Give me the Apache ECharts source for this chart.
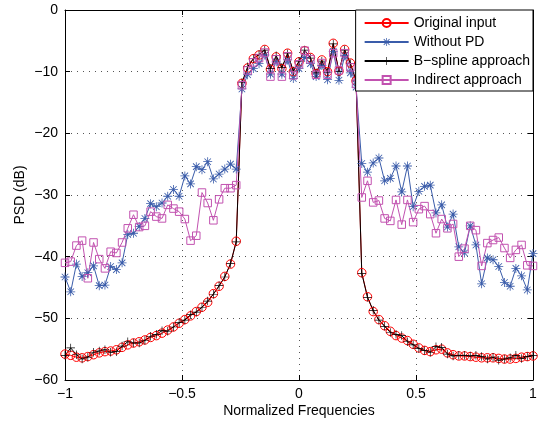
<!DOCTYPE html>
<html>
<head>
    <meta charset="utf-8">
    <style type="text/css">
        html,body { margin: 0px; padding: 0px; background: #fff; }
        #chart { width: 545px; height: 424px; }
    </style>
    <script src="https://cdn.jsdelivr.net/npm/echarts@6/dist/echarts.min.js"></script>
</head>
<body>
    <div id="chart"></div>
    <script type="text/javascript">
        // frequency grid k/41, k = -41..41
        var freq = [];
        for (var k = -41; k <= 41; k++) freq.push(k / 41);

        var origInput = [
            -55.8,-56.0,-56.3,-56.4,-56.2,-55.9,-55.6,-55.4,-55.3,-55.1,-54.7,-54.3,-54.0,-53.8,-53.5,-53.1,
            -52.8,-52.4,-51.9,-51.4,-50.8,-50.2,-49.6,-48.9,-48.2,-47.4,-46.0,-44.8,-43.2,-41.2,-37.5,
            -11.9,-9.4,-7.9,-7.3,-6.4,-9.6,-7.6,-9.5,-7.0,-10.0,-8.4,-6.6,-7.7,-10.3,-8.1,-10.0,-5.4,-9.9,-6.4,-8.6,-11.5,
            -42.6,-46.5,-48.9,-50.2,-51.2,-52.1,-52.8,-53.2,-53.6,-54.2,-54.8,-55.2,-55.4,-55.1,-55.0,-55.6,
            -55.9,-56.1,-56.1,-56.2,-56.3,-56.4,-56.4,-56.4,-56.5,-56.6,-56.6,-56.5,-56.3,-56.2,-56.1
        ];
        var withoutPD = [
            -43.3,-45.7,-41.2,-43.2,-42.6,-41.5,-44.7,-44.6,-41.6,-42.1,-41.0,-36.4,-36.2,-35.1,-33.8,-31.4,
            -31.9,-31.3,-30.2,-29.1,-30.2,-26.9,-28.2,-25.4,-25.9,-24.6,-27.4,-26.6,-25.8,-25.0,-25.8,
            -12.8,-10.5,-9.5,-8.7,-7.3,-10.4,-8.4,-10.4,-8.1,-11.1,-9.5,-7.7,-8.7,-10.8,-9.0,-11.3,-6.7,-11.4,-7.4,-10.2,-12.5,
            -24.9,-26.3,-24.8,-24.0,-27.7,-27.3,-25.3,-29.5,-25.3,-31.9,-29.4,-28.6,-28.4,-32.9,-31.6,-35.2,
            -33.1,-38.4,-39.4,-35.0,-38.1,-44.4,-40.2,-40.5,-41.6,-44.2,-44.8,-41.9,-43.1,-45.4,-39.5
        ];
        var bSpline = [
            -56.0,-54.8,-55.9,-56.6,-56.3,-55.5,-55.3,-55.1,-55.5,-55.4,-54.5,-53.8,-54.0,-54.0,-53.6,-52.9,
            -52.6,-52.0,-52.1,-51.4,-50.7,-50.3,-49.4,-49.0,-48.2,-47.2,-46.1,-44.7,-43.3,-41.1,-37.6,
            -11.8,-9.2,-7.9,-7.2,-6.5,-9.5,-7.4,-9.3,-7.1,-9.9,-8.3,-6.5,-7.8,-10.2,-8.3,-10.1,-5.5,-10.0,-6.5,-8.7,-11.5,
            -42.7,-46.6,-48.7,-50.3,-51.3,-52.3,-52.6,-52.8,-53.8,-54.3,-54.9,-55.2,-55.5,-54.6,-54.7,-55.8,
            -56.1,-56.0,-56.0,-56.1,-56.0,-56.2,-56.6,-56.3,-56.8,-56.6,-56.4,-56.0,-56.5,-56.2,-56.0
        ];
        var indirect = [
            -41.0,-40.8,-38.2,-37.4,-43.5,-37.7,-40.4,-41.9,-39.2,-39.4,-37.7,-35.4,-33.2,-35.2,-35.0,-32.7,
            -33.5,-33.8,-31.6,-32.2,-32.7,-33.9,-37.4,-36.6,-29.6,-31.3,-34.1,-30.7,-28.9,-28.9,-28.4,
            -12.2,-9.8,-8.5,-7.8,-6.9,-10.8,-8.0,-10.8,-7.5,-10.6,-8.8,-6.6,-8.0,-10.5,-8.6,-10.5,-7.0,-9.8,-7.0,-9.3,-12.0,
            -30.4,-27.7,-31.2,-30.9,-33.8,-34.2,-30.8,-34.8,-30.8,-34.4,-32.3,-31.8,-33.1,-36.2,-33.9,-35.4,
            -34.7,-40.0,-38.7,-35.0,-35.7,-41.5,-37.8,-37.3,-36.9,-38.6,-40.2,-38.9,-38.1,-41.4,-41.5
        ];
        var seriesNames = ['Original input', 'Without PD', 'B\u2212spline approach', 'Indirect approach'];

        function pairs(ys) {
            var out = [];
            for (var i = 0; i < ys.length; i++) out.push([freq[i], ys[i]]);
            return out;
        }
        function minus(v) { return String(v).replace('-', '\u2212'); }

        var FONT = '"Liberation Sans", Arial, sans-serif';
        var plusPath = 'path://M9.3,1 L10.7,1 L10.7,9.3 L19,9.3 L19,10.7 L10.7,10.7 L10.7,19 L9.3,19 L9.3,10.7 L1,10.7 L1,9.3 L9.3,9.3 Z';
        var starPath = 'path://M1,9.2 L19,9.2 L19,10.8 L1,10.8 Z M9.2,1 L10.8,1 L10.8,19 L9.2,19 Z ' +
            'M4.1,2.9 L17.1,15.9 L15.9,17.1 L2.9,4.1 Z M2.9,15.9 L15.9,2.9 L17.1,4.1 L4.1,17.1 Z';

        var axisLine = { show: true, onZero: false, lineStyle: { color: '#000', width: 1 } };
        var axisTick = { show: true, inside: true, length: 5, lineStyle: { color: '#000' } };
        var gridLine = { show: true, lineStyle: { color: '#555', width: 1, type: [1, 5] } };
        var label = { color: '#000', fontSize: 14, fontFamily: FONT, margin: 7, formatter: minus };

        var myChart = echarts.init(document.getElementById('chart'));
        var option = {
            animation: false,
            backgroundColor: '#fff',
            grid: { left: 65, right: 12, top: 10, bottom: 44 },
            legend: {
                data: seriesNames,
                orient: 'vertical',
                right: 12, top: 10,
                backgroundColor: '#fff',
                borderColor: '#000', borderWidth: 1, borderRadius: 0,
                padding: [6, 3, 4, 8],
                itemWidth: 44, itemHeight: 10, itemGap: 5,
                textStyle: { color: '#000', fontSize: 14, fontFamily: FONT }
            },
            xAxis: [{
                type: 'value', min: -1, max: 1, interval: 0.5, position: 'bottom',
                axisLine: axisLine, axisTick: axisTick, axisLabel: label, splitLine: gridLine,
                name: 'Normalized Frequencies', nameLocation: 'middle', nameGap: 24,
                nameMoveOverlap: false,
                nameTextStyle: { color: '#000', fontSize: 14, fontFamily: FONT }
            }, {
                type: 'value', min: -1, max: 1, interval: 0.5, position: 'top',
                axisLine: axisLine, axisTick: axisTick, axisLabel: { show: false }, splitLine: { show: false }
            }],
            yAxis: [{
                type: 'value', min: -60, max: 0, interval: 10, position: 'left',
                axisLine: axisLine, axisTick: axisTick, axisLabel: label, splitLine: gridLine,
                name: 'PSD (dB)', nameLocation: 'middle', nameGap: 38, nameRotate: 90,
                nameMoveOverlap: false,
                nameTextStyle: { color: '#000', fontSize: 14, fontFamily: FONT }
            }, {
                type: 'value', min: -60, max: 0, interval: 10, position: 'right',
                axisLine: axisLine, axisTick: axisTick, axisLabel: { show: false }, splitLine: { show: false }
            }],
            series: [{
                name: seriesNames[0], type: 'line', data: pairs(origInput),
                symbol: 'circle', symbolSize: 8.5, showAllSymbol: true,
                lineStyle: { color: '#ff0000', width: 1 },
                itemStyle: { color: 'rgba(255,255,255,0)', borderColor: '#ff0000', borderWidth: 1 }
            }, {
                name: seriesNames[1], type: 'line', data: pairs(withoutPD),
                symbol: starPath, symbolSize: 9, showAllSymbol: true,
                lineStyle: { color: '#3a5caa', width: 1 },
                itemStyle: { color: '#3a5caa' }
            }, {
                name: seriesNames[2], type: 'line', data: pairs(bSpline),
                symbol: plusPath, symbolSize: 8.5, showAllSymbol: true,
                lineStyle: { color: '#000', width: 1 },
                itemStyle: { color: '#000' }
            }, {
                name: seriesNames[3], type: 'line', data: pairs(indirect),
                symbol: 'rect', symbolSize: 7.5, showAllSymbol: true,
                lineStyle: { color: '#c252b0', width: 1 },
                itemStyle: { color: 'rgba(255,255,255,0)', borderColor: '#c252b0', borderWidth: 1 }
            }]
        };
        myChart.setOption(option);
    </script>
</body>
</html>
